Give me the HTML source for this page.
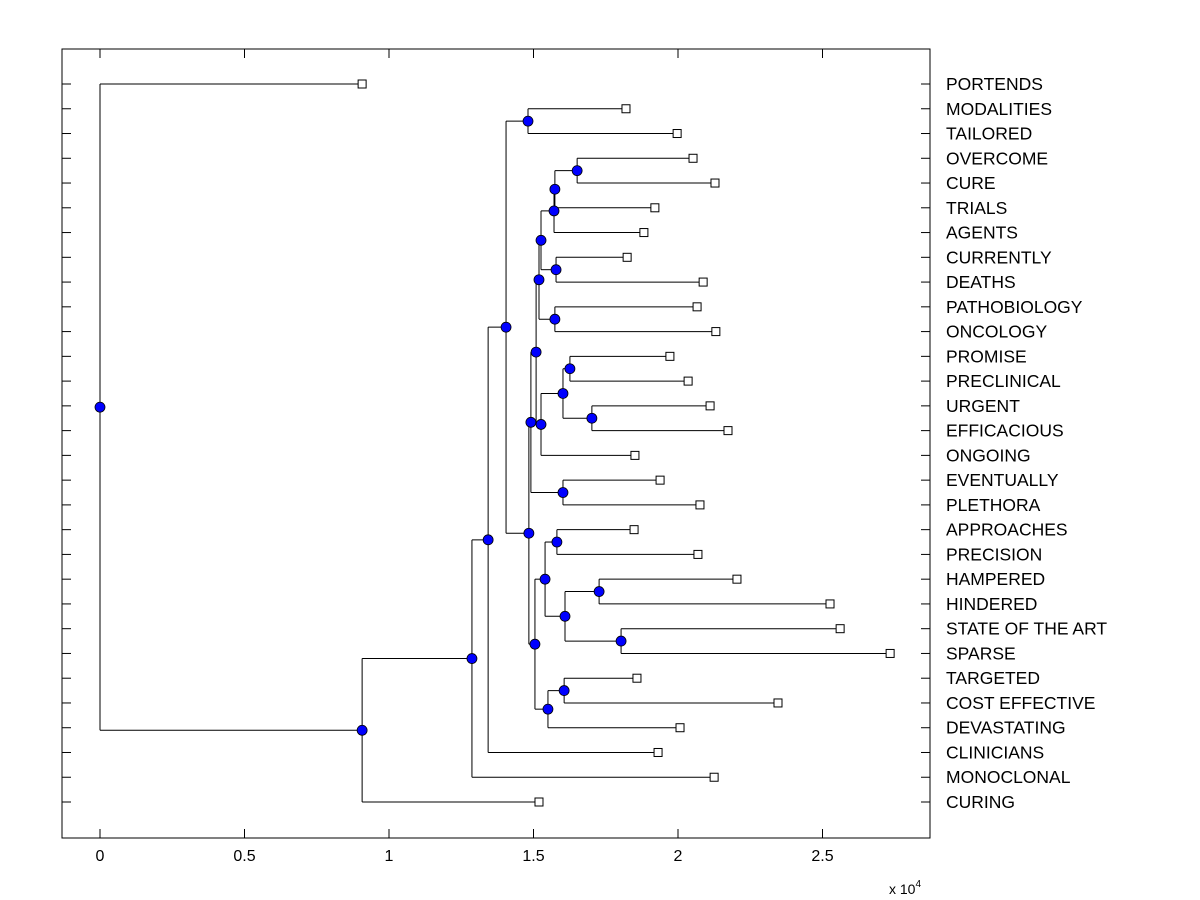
<!DOCTYPE html>
<html><head><meta charset="utf-8"><style>
body{margin:0;background:#fff;}
svg{display:block;font-family:"Liberation Sans",Arial,sans-serif;}
</style></head><body>
<svg id="chart" width="1200" height="900"></svg>
<script>
const labels=["PORTENDS","MODALITIES","TAILORED","OVERCOME","CURE","TRIALS","AGENTS","CURRENTLY","DEATHS","PATHOBIOLOGY","ONCOLOGY","PROMISE","PRECLINICAL","URGENT","EFFICACIOUS","ONGOING","EVENTUALLY","PLETHORA","APPROACHES","PRECISION","HAMPERED","HINDERED","STATE OF THE ART","SPARSE","TARGETED","COST EFFECTIVE","DEVASTATING","CLINICIANS","MONOCLONAL","CURING"];
const leafValues=[0.907,1.820,1.997,2.052,2.128,1.920,1.882,1.824,2.087,2.066,2.131,1.972,2.035,2.111,2.173,1.851,1.938,2.076,1.848,2.069,2.204,2.526,2.561,2.734,1.858,2.346,2.007,1.931,2.125,1.519];
const mergeNames=["mt","oc","oct","octa","cd","m1","po","k","pp","ue","pu","l","i","ep","g","ap","hh","ss","h4","a6","tc","tcd","h","f","d","c","b","a","root"];
const mergeChildren=[[1,2],[3,4],["oc",5],["oct",6],[7,8],["octa","cd"],[9,10],["m1","po"],[11,12],[13,14],["pp","ue"],["pu",15],["k","l"],[16,17],["i","ep"],[18,19],[20,21],[22,23],["hh","ss"],["ap","h4"],[24,25],["tc",26],["a6","tcd"],["g","h"],["mt","f"],["d",27],["c",28],["b",29],[0,"a"]];
const mergeHeights=[1.481,1.651,1.574,1.571,1.578,1.526,1.574,1.519,1.626,1.702,1.602,1.526,1.509,1.602,1.491,1.581,1.727,1.803,1.609,1.540,1.606,1.550,1.505,1.484,1.405,1.343,1.287,0.907,0];
const xTicks=[0,0.5,1,1.5,2,2.5];
const xTickLabels=["0","0.5","1","1.5","2","2.5"];

const NS="http://www.w3.org/2000/svg";
const svg=document.getElementById('chart');
const L=62,R=930,T=49,B=838;
const xs=v=>100+v*289;
const ys=i=>84+i*(802-84)/(labels.length-1);
function el(t,a,p){const e=document.createElementNS(NS,t);for(const k in a)e.setAttribute(k,a[k]);(p||svg).appendChild(e);return e;}

const axes=el('rect',{x:L,y:T,width:R-L,height:B-T,fill:'#fff',stroke:'#000','stroke-width':1});



xTicks.forEach((t,i)=>{
  const x=xs(t);
  el('line',{x1:x,x2:x,y1:B,y2:B-9,stroke:'#000'});
  el('line',{x1:x,x2:x,y1:T,y2:T+9,stroke:'#000'});
  const tx=el('text',{x:x,y:861,'font-size':16,'text-anchor':'middle',fill:'#000'});
  tx.textContent=xTickLabels[i];
  
  
});
const ex=el('text',{x:889,y:894,'font-size':14,fill:'#000'});
ex.innerHTML='x 10<tspan dy="-7" font-size="10">4</tspan>';



labels.forEach((lb,i)=>{
  const y=ys(i);
  el('line',{x1:L,x2:L+9,y1:y,y2:y,stroke:'#000'});
  el('line',{x1:R,x2:R-9,y1:y,y2:y,stroke:'#000'});
  const tx=el('text',{x:946,y:y+6,'font-size':17.5,fill:'#000'});
  tx.textContent=lb;
  
  
});

const pos={};
labels.forEach((lb,i)=>{pos[i]={x:leafValues[i],y:i};});
mergeNames.forEach((n,j)=>{
  const [a,b]=mergeChildren[j];
  pos[n]={x:mergeHeights[j],y:(pos[a].y+pos[b].y)/2,children:[a,b]};
});
const g=el('g',{});


mergeNames.forEach(n=>{
  const p=pos[n];const [a,b]=p.children;
  const px=xs(p.x);
  el('line',{x1:px,x2:px,y1:ys(pos[a].y),y2:ys(pos[b].y),stroke:'#000'},g);
  [a,b].forEach(c=>{el('line',{x1:px,x2:xs(pos[c].x),y1:ys(pos[c].y),y2:ys(pos[c].y),stroke:'#000'},g);});
});
labels.forEach((lb,i)=>{
  const r=el('rect',{x:xs(leafValues[i])-4,y:ys(i)-4,width:8,height:8,fill:'#fff',stroke:'#000'});
  
  
});
mergeNames.forEach(n=>{
  const p=pos[n];
  const c=el('circle',{cx:xs(p.x),cy:ys(p.y),r:5,fill:'#0000ff',stroke:'#000','stroke-width':0.8});
  
  
});
</script>
</body></html>
